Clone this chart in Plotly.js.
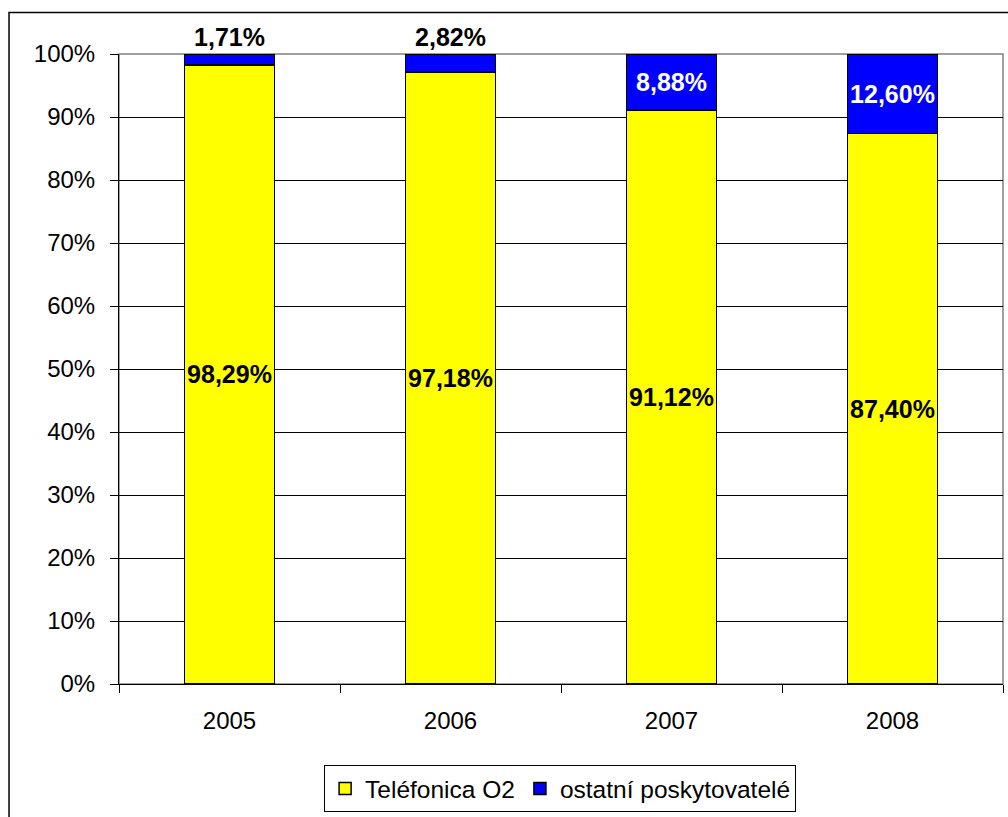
<!DOCTYPE html>
<html>
<head>
<meta charset="utf-8">
<script src="https://cdn.plot.ly/plotly-3.0.1.min.js"></script>
<style>html,body{margin:0;padding:0;background:#fff;}#chart{width:1008px;height:817px;}</style>
</head>
<body>
<div id="chart"></div>
<script>
var years = ['2005', '2006', '2007', '2008'];
var o2Values = [98.29, 97.18, 91.12, 87.40];
var otherValues = [1.71, 2.82, 8.88, 12.60];
var seriesNames = ['Teléfonica O2', 'ostatní poskytovatelé'];

function fmt(v) { return v.toFixed(2).replace('.', ',') + '%'; }

var FONT = 'Liberation Sans, Arial, sans-serif';

var traces = [
  {
    type: 'bar', name: seriesNames[0], x: years, y: o2Values,
    marker: {color: '#FFFF00', line: {color: '#000000', width: 1.5}},
    text: o2Values.map(fmt), textposition: 'inside', insidetextanchor: 'middle',
    textangle: 0, constraintext: 'none',
    textfont: {family: FONT, size: 25, color: '#000000', weight: 'bold'},
    hoverinfo: 'none'
  },
  {
    type: 'bar', name: seriesNames[1], x: years, y: otherValues,
    marker: {color: '#0000FF', line: {color: '#000000', width: 1.5}},
    text: otherValues.map(fmt),
    textposition: otherValues.map(function(v){ return v < 5 ? 'outside' : 'inside'; }),
    insidetextanchor: 'middle', textangle: 0, constraintext: 'none', cliponaxis: false,
    textfont: {family: FONT, size: 25, weight: 'bold',
      color: otherValues.map(function(v){ return v < 5 ? '#000000' : '#FFFFFF'; })},
    hoverinfo: 'none'
  }
];

var layout = {
  width: 1008, height: 817,
  margin: {l: 119, r: 5, t: 54, b: 130},
  paper_bgcolor: '#ffffff', plot_bgcolor: '#ffffff',
  barmode: 'stack', bargap: 0.593,
  font: {family: FONT, size: 24, color: '#000000'},
  showlegend: true,
  legend: {orientation: 'h', x: 0.499, xanchor: 'center', y: -0.166, yanchor: 'middle',
    bordercolor: '#000000', borderwidth: 1, font: {family: FONT, size: 24.5, color: '#000000'},
    traceorder: 'normal', itemclick: false},
  xaxis: {type: 'category', tickson: 'boundaries', ticks: 'outside', ticklen: 8,
    tickcolor: '#000000', showline: true, linecolor: '#000000', linewidth: 1,
    showgrid: false, ticklabelstandoff: 15, tickfont: {family: FONT, size: 24}},
  yaxis: {range: [0, 100], dtick: 10, ticksuffix: '%', ticks: 'outside', ticklen: 8,
    tickcolor: '#000000', showline: true, linecolor: '#000000', linewidth: 1,
    showgrid: true, gridcolor: '#000000', gridwidth: 1, zeroline: false,
    ticklabelstandoff: 10, tickfont: {family: FONT, size: 24}},
  shapes: [
    {type: 'rect', xref: 'paper', yref: 'paper', x0: 0, x1: 1, y0: 0, y1: 1,
      line: {color: '#808080', width: 1.5}, layer: 'below'},
    {type: 'rect', xref: 'paper', yref: 'paper', x0: -0.1244, x1: 1.1, y0: -0.4, y1: 1.066,
      line: {color: '#000000', width: 1.5}, layer: 'below'}
  ]
};

Plotly.newPlot('chart', traces, layout, {displayModeBar: false, staticPlot: true});
</script>
</body>
</html>
